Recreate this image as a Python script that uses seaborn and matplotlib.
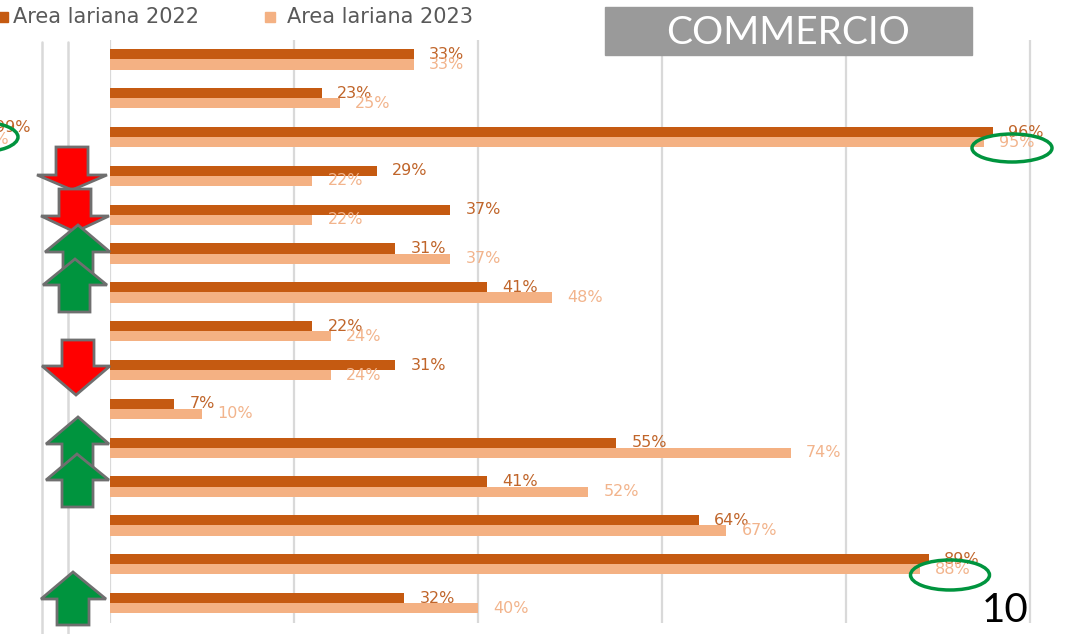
import matplotlib
matplotlib.use('Agg')
import matplotlib.pyplot as plt
from matplotlib.patches import Polygon, Ellipse, Rectangle
from matplotlib.lines import Line2D
from matplotlib.transforms import Affine2D
import seaborn as sns
import pandas as pd

# Data (category names are cropped off in the original)
rows = [str(i) for i in range(1, 16)]
values_2022 = [33, 23, 96, 29, 37, 31, 41, 22, 31, 7, 55, 41, 64, 89, 32]
values_2023 = [33, 25, 95, 22, 22, 37, 48, 24, 24, 10, 74, 52, 67, 88, 40]
series = ['Area lariana 2022', 'Area lariana 2023']
title = 'COMMERCIO'
page_number = '10'

dark = '#C55A11'
light = '#F4B183'
dark_txt = '#C0652A'
light_txt = '#F2B48C'
grid_col = '#D9D9D9'
red = '#FF0000'
green = '#00943E'

df = pd.DataFrame({
    'row': rows * 2,
    'value': values_2022 + values_2023,
    'serie': [series[0]] * len(rows) + [series[1]] * len(rows),
})

W, H = 1076, 634
sns.set_style('white')
plt.rcParams['font.family'] = ['DejaVu Sans']
fig = plt.figure(figsize=(W / 100, H / 100), dpi=100)
# pixel coordinates, y from the top
px = Affine2D().scale(1 / W, -1 / H).translate(0, 1) + fig.transFigure

ax = fig.add_axes([110 / W, 1 - 622.5 / H, 1 - 110 / W, 582.5 / H])
sns.barplot(data=df, y='row', x='value', hue='serie', orient='h',
            palette=[dark, light], width=0.52, gap=0, saturation=1,
            linewidth=0, legend=False, ax=ax)
ax.set_xlim(0, 105)
ax.set_xticks([0, 20, 40, 60, 80, 100])
ax.set_xticklabels([])
ax.set_yticks([])
ax.set_xlabel('')
ax.set_ylabel('')
ax.grid(axis='x', color=grid_col, lw=1.6)
ax.set_axisbelow(True)
for s in ax.spines.values():
    s.set_visible(False)

ax.bar_label(ax.containers[0], labels=[f'{v}%' for v in values_2022],
             padding=11, color=dark_txt, fontsize=11.5)
ax.bar_label(ax.containers[1], labels=[f'{v}%' for v in values_2023],
             padding=11, color=light_txt, fontsize=11.5)

# neighbouring panel grid lines on the left
for x in [42, 68]:
    fig.add_artist(Line2D([x, x], [42, 634], transform=px, color=grid_col, lw=1.8))

# legend
fig.add_artist(Rectangle((-2, 12), 10, 10, transform=px, color=dark))
fig.text(13, 17, series[0], transform=px, va='center', ha='left',
         fontsize=15, color='#595959')
fig.add_artist(Rectangle((265, 12), 10, 10, transform=px, color=light))
fig.text(287, 17, series[1], transform=px, va='center', ha='left',
         fontsize=15, color='#595959')

# title box
fig.add_artist(Rectangle((605, 7), 367, 48, transform=px, color='#9A9A9A', zorder=5))
fig.text(788, 33, title, transform=px, ha='center', va='center', color='white',
         fontsize=28, family=['Lato', 'DejaVu Sans'], zorder=6)

# page number
fig.text(1005, 611, page_number, transform=px, ha='center', va='center',
         fontsize=29, family=['Lato', 'DejaVu Sans'], color='black')


def arrow(sx0, sx1, base, hx0, hx1, hy, tx, tip, color):
    pts = [(sx0, base), (sx1, base), (sx1, hy), (hx1, hy), (tx, tip), (hx0, hy), (sx0, hy)]
    fig.add_artist(Polygon(pts, closed=True, transform=px, facecolor=color,
                           edgecolor='#6F6F6F', lw=2, zorder=4))


arrow(56, 88, 147, 37, 107, 175, 72, 190, red)
arrow(59, 91, 189, 41, 109, 216, 75, 232, red)
arrow(63, 93, 280, 45, 110, 252, 78, 225, green)
arrow(59, 90, 312, 43, 107, 285, 75, 259, green)
arrow(62, 94, 340, 42, 110, 366, 76, 395, red)
arrow(62, 93, 470, 46, 109, 444, 78, 417, green)
arrow(62, 93, 507, 46, 109, 480, 77, 454, green)
arrow(57, 89, 625, 41, 106, 599, 73, 572, green)

# partial labels of the neighbouring panel (cut by the slide edge)
fig.text(31, 127, '99%', transform=px, ha='right', va='center', fontsize=11.5, color=dark_txt)
fig.text(9, 140, '98%', transform=px, ha='right', va='center', fontsize=11.5, color=light_txt)

# green highlight ellipses
for cx, cy, w, h in [(1012, 148, 80, 28), (950, 575, 79, 30), (-20, 137, 76, 30)]:
    fig.add_artist(Ellipse((cx, cy), w, h, transform=px, fill=False,
                           edgecolor=green, lw=2.5, zorder=7))

fig.savefig('out.png', dpi=100)
